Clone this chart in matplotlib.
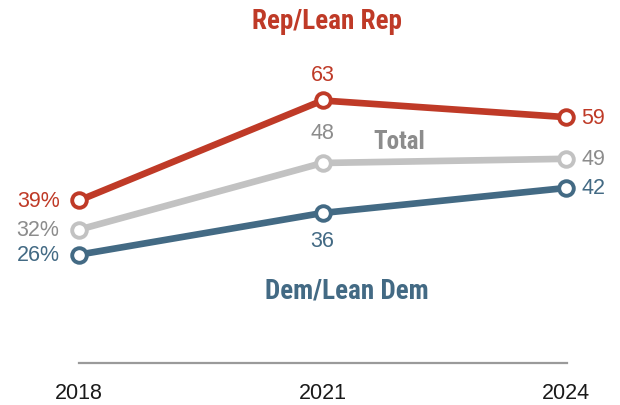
import matplotlib.pyplot as plt
from matplotlib import font_manager

years = [2018, 2021, 2024]
rep = [39, 63, 59]
total = [32, 48, 49]
dem = [26, 36, 42]

RED = "#BF3A27"
GRAY = "#C2C2C2"
GRAY_TXT = "#8C8C8C"
BLUE = "#436A84"

NUM_FONT = "Liberation Sans"
installed = {f.name for f in font_manager.fontManager.ttflist}
LBL_FONT = next((f for f in ["Liberation Sans Narrow", "Roboto Condensed",
                             "Open Sans Condensed", "Liberation Sans"]
                 if f in installed), "DejaVu Sans")

fig = plt.figure(figsize=(6.2, 4.06), dpi=100)
# axes placed so the x range spans the chart width and y=0 sits on the baseline
ax = fig.add_axes([79 / 620, 42 / 406, 487 / 620, 291.7 / 406])
ax.set_xlim(2018, 2024)
ax.set_ylim(0, 70)
ax.axis("off")
ax.axhline(0, xmin=0, xmax=1.003, color="#9A9A9A", lw=1.6, clip_on=False)

for vals, c in [(dem, BLUE), (total, GRAY), (rep, RED)]:
    ax.plot(years, vals, color=c, lw=4.8, marker="o", ms=10.5, mfc="white",
            mec=c, mew=2.8, solid_capstyle="round", clip_on=False, zorder=3)

fs = 15.5


def num(x, y, s, color, dx, dy, ha):
    ax.annotate(s, (x, y), xytext=(dx, dy), textcoords="offset points",
                ha=ha, va="center", fontsize=fs, color=color, family=NUM_FONT)


# left-side starting values
num(years[0], rep[0], f"{rep[0]}%", RED, -14, 0, "right")
num(years[0], total[0], f"{total[0]}%", GRAY_TXT, -14, 0, "right")
num(years[0], dem[0], f"{dem[0]}%", BLUE, -14, 0, "right")
# middle values
num(years[1], rep[1], str(rep[1]), RED, 0, 19, "center")
num(years[1], total[1], str(total[1]), GRAY_TXT, 0, 22, "center")
num(years[1], dem[1], str(dem[1]), BLUE, 0, -20, "center")
# right-side values
num(years[2], rep[2], str(rep[2]), RED, 11, 0, "left")
num(years[2], total[2], str(total[2]), GRAY_TXT, 11, 0, "left")
num(years[2], dem[2], str(dem[2]), BLUE, 11, 0, "left")

# series labels
ax.text(2021.05, 82.3, "Rep/Lean Rep", ha="center", va="center", fontsize=19.5,
        fontweight="bold", color=RED, family=LBL_FONT)
ax.text(2021.95, 53.3, "Total", ha="center", va="center", fontsize=18,
        fontweight="bold", color=GRAY_TXT, family=LBL_FONT)
ax.text(2021.3, 17.6, "Dem/Lean Dem", ha="center", va="center", fontsize=19.5,
        fontweight="bold", color=BLUE, family=LBL_FONT)

# year labels under the baseline
for yr in years:
    ax.annotate(str(yr), (yr, 0), xytext=(0, -21.5), textcoords="offset points",
                ha="center", va="center", fontsize=fs, color="#1a1a1a",
                family=NUM_FONT)

fig.savefig("out.png", dpi=100)
